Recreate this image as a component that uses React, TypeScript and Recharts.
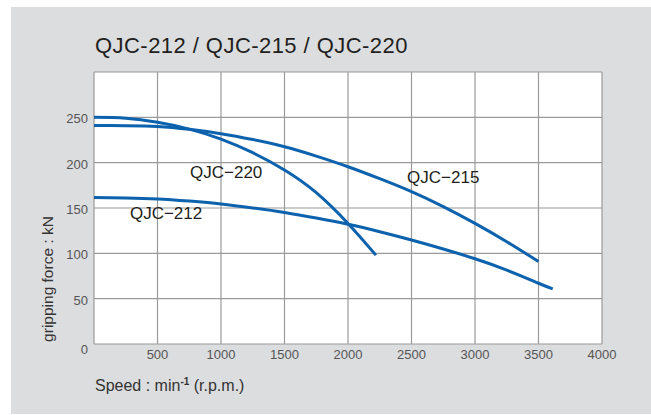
import React from 'react';
import { LineChart, Line, XAxis, YAxis, CartesianGrid, ReferenceDot } from 'recharts';

const rpm212 = [0, 250, 500, 750, 1000, 1250, 1500, 1750, 2000, 2250, 2500, 2750, 3000, 3250, 3500, 3612];
const force212 = [161.5, 161.1, 160, 157.6, 154.5, 150.1, 145, 138.9, 132, 123.8, 114.7, 104.8, 94, 81.5, 67, 60.7];

const rpm215 = [0, 250, 500, 750, 1000, 1250, 1500, 1750, 2000, 2250, 2500, 2750, 3000, 3250, 3500];
const force215 = [241, 240.8, 240, 236.8, 232, 225.5, 217.5, 207.2, 195.5, 182.3, 168, 151.5, 133, 112.8, 91];

const rpm220 = [0, 250, 500, 750, 1000, 1250, 1500, 1750, 2000, 2220];
const force220 = [250, 249, 244.5, 237, 226, 211, 192, 167, 133, 98];

const xTicks = [0, 500, 1000, 1500, 2000, 2500, 3000, 3500, 4000];
const yTicks = [0, 50, 100, 150, 200, 250, 300];

const seriesLabels = [
  { name: 'QJC\u2212220', x: 756, y: 183 },
  { name: 'QJC\u2212212', x: 283, y: 138 },
  { name: 'QJC\u2212215', x: 2465, y: 177.6 },
];

const title = 'QJC-212 / QJC-215 / QJC-220';
const yTitle = 'gripping force : kN';

const toPoints = (xs: number[], ys: number[]) => xs.map((x, i) => ({ x, y: ys[i] }));
const d212 = toPoints(rpm212, force212);
const d215 = toPoints(rpm215, force215);
const d220 = toPoints(rpm220, force220);

const FONT = '"Liberation Sans", Arial, Helvetica, sans-serif';
const BLUE = '#0d62ad';

const YTick = (props: any) => {
  const { x, y, payload } = props;
  if (payload.value === 300) return null;
  const extra = payload.value === 0 ? 5 : 1.5;
  return (
    <text x={x} y={y + extra} dy="0.355em" textAnchor="end" fill="#555" fontSize={13} fontFamily={FONT}>
      {payload.value}
    </text>
  );
};

const XTick = (props: any) => {
  const { x, y, payload } = props;
  if (payload.value === 0) return null;
  return (
    <text x={x} y={y} dy="0.71em" textAnchor="middle" fill="#555" fontSize={13} fontFamily={FONT}>
      {payload.value}
    </text>
  );
};

const makeLabel = (text: string) => (p: any) => {
  const vb = p.viewBox || {};
  const cx = (vb.x || 0) + (vb.width || 0) / 2;
  const cy = (vb.y || 0) + (vb.height || 0) / 2;
  return (
    <text x={cx} y={cy} fill="#231f20" fontSize={17} fontFamily={FONT} textAnchor="start">
      {text}
    </text>
  );
};

export default function App() {
  return (
    <div style={{ position: 'absolute', left: 0, top: 0, width: 651, height: 415, background: '#fff', overflow: 'hidden' }}>
      <div style={{ position: 'absolute', left: 11, top: 7, width: 640, height: 407, background: '#dcdddf' }} />
      <div style={{ position: 'absolute', left: 0, top: 0 }}>
        <LineChart width={651} height={415} margin={{ top: 72, right: 49, bottom: 41, left: 34 }}>
          <CartesianGrid stroke="#9a9a9a" strokeWidth={1.2} fill="#ffffff" />
          <XAxis
            dataKey="x"
            type="number"
            domain={[0, 4000]}
            ticks={xTicks}
            axisLine={false}
            tickLine={false}
            tickSize={6}
            tickMargin={0}
            height={30}
            tick={<XTick />}
            interval={0}
          />
          <YAxis
            type="number"
            domain={[0, 300]}
            ticks={yTicks}
            axisLine={false}
            tickLine={false}
            tickSize={6}
            tickMargin={0}
            width={60}
            tick={<YTick />}
            interval={0}
          />
          <Line data={d212} dataKey="y" type="natural" stroke={BLUE} strokeWidth={3} dot={false} isAnimationActive={false} />
          <Line data={d215} dataKey="y" type="natural" stroke={BLUE} strokeWidth={3} dot={false} isAnimationActive={false} />
          <Line data={d220} dataKey="y" type="natural" stroke={BLUE} strokeWidth={3} dot={false} isAnimationActive={false} />
          {seriesLabels.map((l) => (
            <ReferenceDot key={l.name} x={l.x} y={l.y} r={1} fill="none" stroke="none" label={makeLabel(l.name)} />
          ))}
        </LineChart>
      </div>
      <svg width={651} height={415} style={{ position: 'absolute', left: 0, top: 0, pointerEvents: 'none' }}>
        <text x={95} y={53.3} fill="#231f20" fontSize={22} letterSpacing={0.45} fontFamily={FONT}>
          {title}
        </text>
        <text
          transform="translate(52.5,279) rotate(-90)"
          textAnchor="middle"
          fill="#333"
          fontSize={15.5}
          fontFamily={FONT}
        >
          {yTitle}
        </text>
        <text x={95} y={390.5} fill="#333" fontSize={16} fontFamily={FONT}>
          Speed : min
          <tspan fontSize={10} fontWeight="bold" dy={-6}>-1</tspan>
          <tspan dy={6}> (r.p.m.)</tspan>
        </text>
      </svg>
    </div>
  );
}
